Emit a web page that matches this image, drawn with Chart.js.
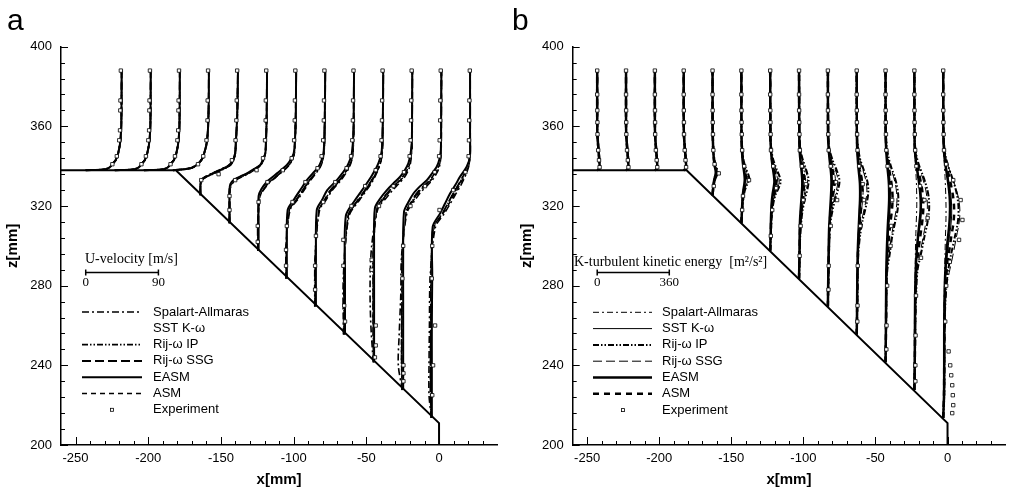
<!DOCTYPE html>
<html lang="pt">
<head>
<meta charset="utf-8">
<title>Perfis U e K</title>
<script src="https://cdn.jsdelivr.net/npm/chart.js@4.4.1/dist/chart.umd.min.js"></script>
<style>
  body { margin: 0; background: #fff; }
  .painel { position: absolute; top: 0; width: 505px; height: 493px; }
</style>
</head>
<body>
<div class="painel" style="left:0"><canvas id="graficoU" width="505" height="493"></canvas></div>
<div class="painel" style="left:505px"><canvas id="graficoK" width="505" height="493"></canvas></div>
<script>
'use strict';
//========================================================================================
// DADOS
const estacoes = [-243, -223, -203, -183, -163, -143, -123, -103, -83, -63, -43, -23, -3];
const paredeX = [-260, -181, 0, 0];
const paredeZ = [338, 338, 211, 200];
const xTicks = [-250, -200, -150, -100, -50, 0];
const zTicks = [200, 240, 280, 320, 360, 400];
const modelos = ['Spalart-Allmaras', 'SST K-ω', 'Rij-ω IP', 'Rij-ω SSG', 'EASM', 'ASM'];
const escalaU = 50 / 90;   // 90 m/s = 50 mm no desenho
const escalaK = 50 / 360;  // 360 m2/s2 = 50 mm no desenho

// --- a: U-velocity [m/s] ---
const zUMontante = [338, 338.3, 339, 340, 341.5, 343, 345.5, 348, 351, 354, 360, 370, 388];
const uMontante = [0, 22, 28, 31, 34, 37, 39.5, 41, 42.3, 43.2, 44, 44.3, 44.5];
const zUQuina = [338, 338.3, 338.7, 339.3, 340.5, 342, 344, 347, 350, 354, 360, 370, 388];
const uQuina = [0, 10, 18, 24, 29, 33, 36.5, 39, 41, 42.5, 43.5, 44.2, 44.5];

const zU = [zUMontante, zUMontante, zUMontante, zUQuina,
    [325.4, 330, 333, 334.5, 336, 337.5, 339, 340.6, 343, 346.5, 353, 365, 388],
    [311.4, 320, 328, 331, 333, 334.8, 336.4, 338.5, 340.6, 343.5, 346.4, 353, 365, 388],
    [297.5, 312, 325, 328.5, 332.2, 334.3, 336.4, 338.5, 340.6, 343.5, 346.4, 353, 365, 388],
    [283.5, 300, 318, 323, 328, 333, 336.4, 339.7, 343, 346.4, 353, 365, 388],
    [269.5, 295, 318, 323, 328, 333, 336.4, 339.7, 343, 346.4, 356.4, 370, 388],
    [255.5, 285, 315, 323, 327, 331.4, 335.5, 339.7, 343.5, 348, 358, 370, 388],
    [241.5, 260, 280, 300, 319, 324, 328, 331.4, 334.7, 338, 341.4, 346, 351.5, 365, 388],
    [227.6, 240, 255, 275, 295, 317, 322, 326.3, 330, 333, 336.5, 339.7, 343, 348, 365, 388],
    [213.6, 225, 240, 260, 285, 309.5, 316.3, 321, 326.3, 330.5, 334.7, 339.7, 344.7, 355, 388]];

const uSA = [uMontante, uMontante, uMontante, uQuina,
    [-2, -2, -1, 3, 10, 18, 26, 33, 38, 40.8, 42, 43.5, 44.5],
    [-2, -2, -1.5, 1, 6, 14, 22, 30, 37, 40, 42.3, 43.2, 44, 44.5],
    [-3, -3, 0, 5, 12.5, 19, 25, 31, 36, 40, 42.3, 43.3, 44, 44.5],
    [-4, -4, 1, 10, 18.5, 26.5, 33, 38.5, 41.5, 43, 43.6, 44, 44.5],
    [-4.5, -4, 1.5, 9.5, 17.5, 28, 34, 38.5, 41.3, 42.8, 43.6, 43.9, 44.2],
    [-5, -5, 2, 15, 22, 29.5, 35, 39.5, 42, 43.3, 43.8, 44, 44.3],
    [-4, -7, -8, -6, 2, 12, 20, 28, 35, 39.5, 42, 43.3, 43.9, 44, 44.3],
    [-4, -9, -8, -6, -5, 2, 10, 17.5, 26, 33, 38.5, 41.8, 43.2, 44, 44.1, 44.3],
    [-4, -7, -7, -6.5, -5.5, 1, 12, 19, 26.5, 32.5, 37.5, 42, 43.6, 43.8, 43.8]];
const uSST = [uMontante, uMontante, uMontante, uQuina,
    [-2, -2, -1, 4, 12, 20, 28, 35, 38.5, 41, 42, 43.5, 44.5],
    [-2, -2, -2, -0.5, 3.5, 11.5, 20, 28.5, 36, 39.5, 42.3, 43.2, 44, 44.5],
    [-2, -2, -1.5, 2.5, 9.5, 15.8, 22, 28.2, 34, 38.6, 41.6, 43.1, 44, 44.5],
    [-3, -3, -1.5, 6.5, 14.8, 23, 30.2, 36.8, 40.4, 42.5, 43.4, 44, 44.5],
    [-3, -3, -1, 5.5, 12.5, 24, 30.5, 36, 39.6, 41.8, 43.4, 43.8, 44.2],
    [-3, -3, -1, 10.5, 17.5, 25.5, 31.8, 37.2, 40.6, 42.7, 43.6, 44, 44.3],
    [-3, -3, -3, -3, -1, 6.5, 14.5, 23, 30.5, 36, 40, 42.3, 43.7, 44, 44.3],
    [-3, -3, -3, -3, -3, -1, 5, 11.5, 20, 28, 34.5, 39.3, 42, 43.7, 44, 44.3],
    [-3.5, -3.5, -3.5, -3.5, -3, -2, 7.8, 14, 20.8, 27, 32.8, 40.3, 43.6, 43.8, 43.8]];
const uIP = [uMontante, uMontante, uMontante, uQuina,
    [-2, -2, 0, 5, 13, 21, 29, 35.5, 39, 41.2, 42.2, 43.6, 44.5],
    [-2, -2, -1.5, 0.5, 5, 13, 21, 29, 36.5, 40, 42.3, 43.2, 44, 44.5],
    [-2.5, -2.5, -0.5, 4, 11.5, 18, 24, 30, 35.5, 39.5, 42, 43.2, 44, 44.5],
    [-3.5, -3.5, 0, 8.5, 17, 25, 31.5, 37.5, 41, 42.8, 43.5, 44, 44.5],
    [-4, -3.5, 0.5, 8, 15.5, 26.5, 32.5, 37.5, 40.6, 42.4, 43.5, 43.9, 44.2],
    [-4, -4, 1, 13.5, 20.5, 28, 34, 38.8, 41.6, 43, 43.7, 44, 44.3],
    [-3.5, -4, -4, -4, 0.5, 9, 17, 25.5, 32.5, 37.5, 41, 42.8, 43.8, 44, 44.3],
    [-4, -5, -5, -4.5, -4, 0.5, 7.5, 14.5, 23, 30.5, 36.5, 40.5, 42.8, 43.9, 44.1, 44.3],
    [-4, -5, -5, -5, -4.5, -1, 9.5, 16, 23.5, 29.5, 35, 41, 43.6, 43.8, 43.8]];
const uSSG = [uMontante, uMontante, uMontante, uQuina,
    [-2, -2, -1, 4, 11, 19, 27, 34, 38.5, 41, 42, 43.5, 44.5],
    [-2, -2, -2, 0, 4, 12, 20.5, 29, 36.5, 39.8, 42.3, 43.2, 44, 44.5],
    [-2.5, -2.5, -1, 3.5, 11, 17.5, 23.5, 29.5, 35, 39.3, 41.9, 43.2, 44, 44.5],
    [-3.5, -3.5, -0.5, 8, 16.5, 24.5, 31, 37.2, 40.8, 42.7, 43.5, 44, 44.5],
    [-4, -3.5, 0, 7.5, 15, 26, 32, 37.2, 40.4, 42.3, 43.5, 43.9, 44.2],
    [-4, -4, 0.5, 13, 20, 27.5, 33.5, 38.5, 41.4, 42.9, 43.7, 44, 44.3],
    [-3.5, -4, -4, -3.5, 0, 8, 16, 24.5, 31.8, 37, 40.6, 42.6, 43.8, 44, 44.3],
    [-4, -4.5, -4.5, -4, -4, 0, 7, 13.5, 22, 29.5, 35.8, 40, 42.5, 43.8, 44.1, 44.3],
    [-4, -5, -5, -4.5, -4, -1.5, 9, 15.5, 23, 29, 34.5, 40.8, 43.6, 43.8, 43.8]];
const uEASM = [uMontante, uMontante, uMontante, uQuina,
    [-2, -2, -1, 4, 12, 20, 28, 35, 38.5, 41, 42, 43.5, 44.5],
    [-2, -2, -2, -1, 3, 11, 19.6, 28, 36, 39.5, 42.3, 43.2, 44, 44.5],
    [-2, -2, -2, 1.5, 8.3, 14.5, 20.7, 27, 33, 38, 41.4, 43, 44, 44.5],
    [-3, -3, -2, 5.4, 13.5, 21.8, 29, 36.2, 40, 42.3, 43.3, 44, 44.5],
    [-3, -3, -2, 4.5, 11, 22.9, 29.5, 35.3, 39, 41.4, 43.4, 43.8, 44.2],
    [-3, -3, -2, 9.5, 16.5, 24, 30.5, 36.4, 40, 42.5, 43.5, 44, 44.3],
    [-3, -3, -3, -3, -2, 5, 12.8, 21, 29.2, 35, 39.4, 42, 43.6, 44, 44.3],
    [-3, -3, -3, -3, -3, -2, 3.5, 9.7, 18, 26.3, 33, 38.5, 41.5, 43.6, 44, 44.3],
    [-3.5, -3.5, -3.5, -3.5, -3, -2.5, 6.7, 12.5, 19, 25.5, 31.3, 39.6, 43.6, 43.8, 43.8]];
const uASM = [uMontante, uMontante, uMontante, uQuina,
    [-2, -2, -1, 3.5, 11, 19, 27, 34.5, 38.5, 41, 42, 43.5, 44.5],
    [-2, -2, -2, 0, 4.5, 12.5, 21, 29, 36.5, 39.8, 42.3, 43.2, 44, 44.5],
    [-2.5, -2.5, -0.5, 4.5, 12, 18.5, 24.5, 30.5, 35.8, 39.8, 42.1, 43.2, 44, 44.5],
    [-3.5, -3.5, 0, 9, 17.5, 25.5, 32, 37.8, 41.2, 42.9, 43.5, 44, 44.5],
    [-4, -3.5, 0.5, 8.5, 16.5, 27, 33, 38, 41, 42.6, 43.5, 43.9, 44.2],
    [-4, -4, 1, 14, 21, 28.5, 34.5, 39, 41.8, 43.1, 43.7, 44, 44.3],
    [-3.5, -4, -4, -3.5, 1, 10, 18, 26.5, 33.5, 38.3, 41.3, 42.9, 43.8, 44, 44.3],
    [-4, -5, -5, -4.5, -4, 1, 8.5, 15.5, 24, 31.5, 37.2, 41, 43, 43.9, 44.1, 44.3],
    [-4, -5, -5, -5, -4.5, -0.5, 10.5, 17.5, 25, 31, 36.3, 41.5, 43.6, 43.8, 43.8]];

const expZUMontante = [388, 373, 368, 358, 353, 345, 341];
const expUMontante = [43.5, 43, 42.8, 42.5, 41.5, 38.5, 33];
const expZU = [expZUMontante, expZUMontante, expZUMontante,
    [388, 373, 363, 353, 345, 341],
    [388, 373, 363, 353, 343, 336, 333],
    [388, 373, 363, 353, 344, 338, 333, 325, 318],
    [388, 373, 363, 353, 344, 338, 332, 322, 310, 302],
    [388, 373, 363, 353, 345, 339, 332, 322, 310, 298, 290],
    [388, 373, 363, 353, 345, 339, 332, 322, 305, 290, 278],
    [388, 373, 363, 353, 345, 338, 330, 320, 303, 290, 270, 262],
    [388, 373, 363, 353, 345, 337, 330, 320, 293, 288, 260, 250, 244],
    [388, 373, 363, 353, 345, 337, 330, 320, 300, 283.6, 240, 236, 232],
    [388, 373, 363, 353, 345, 337, 328, 318, 300, 283.6, 260, 240, 225]];
const expU = [expUMontante, expUMontante, expUMontante,
    [43.5, 43, 42.8, 41.5, 37.5, 31],
    [43.5, 43, 42.5, 41.5, 37, 20.5, -1],
    [43.5, 43, 42.8, 42, 39.5, 31.5, 5, -2, -2],
    [43.5, 43, 42.8, 42, 39, 28, 9, -2, -3, -3],
    [43.5, 43, 42.8, 42, 40, 35, 20, 4, -3, -4, -4],
    [43.5, 43, 42.8, 42, 40.5, 35, 21, 6, -3, -4, -4],
    [43.5, 43, 42.8, 42.2, 41, 35, 22, 5, -5, -5, -4, -3],
    [43.5, 43, 42.8, 42.2, 41, 34, 21, 3, -6, -6, -1, -1, -2],
    [43.5, 43, 42.8, 42.2, 41.5, 36, 24, 6, -3, -4, -2.7, -2.7, -2.7],
    [43.5, 43, 42.8, 42.5, 42, 38, 23, 6, -3, -3.6, 0.5, -2, -3]];

// --- b: K-turbulent kinetic energy [m2/s2] ---
const zKMontante = [338, 338.5, 340, 342, 345, 348, 352, 356, 362, 388];
const kMontante = [0, 10, 12, 11, 9, 6.5, 3.5, 1, 0, 0];

const zK = [zKMontante, zKMontante, zKMontante, zKMontante,
    [325.4, 330, 333, 335, 336.5, 338, 340, 343, 347, 352, 358, 388],
    [311.4, 318, 324, 328, 331, 333.5, 336, 339, 343, 348, 355, 388],
    [297.5, 305, 314, 321, 326, 329, 332, 335, 338.5, 343, 348, 355, 388],
    [283.5, 295, 305, 313, 318, 322, 326, 330, 333, 336, 340, 345, 352, 388],
    [269.5, 285, 298, 308, 314, 319, 324, 328, 332, 335, 338.5, 343, 348, 355, 388],
    [255.5, 270, 285, 296, 304.5, 313, 318, 321.5, 325, 328, 331.5, 335, 339, 344, 350, 358, 388],
    [241.5, 260, 278, 288, 296, 304.5, 313, 318, 323, 327, 331, 335, 339, 344, 350, 358, 388],
    [227.6, 245, 262, 276, 288, 296, 304.5, 311, 316, 320, 324, 328, 332, 336, 340, 345, 352, 388],
    [213.6, 225, 240, 255, 270, 280, 288, 296, 304.5, 310, 315, 320, 325, 330, 335, 340, 346, 355, 388]];

const kSA = [kMontante, kMontante, kMontante, kMontante,
    [0, 5, 10, 17, 22, 20, 14, 8, 4.5, 2, 0.5, 0],
    [0, 4, 9, 16, 25, 30, 26, 17, 9, 4, 1, 0],
    [0, 3, 6, 12, 22, 32, 38, 34, 24, 12, 5, 1, 0],
    [0, 3, 5, 9, 14, 20, 27, 32, 33, 29, 20, 10, 3, 0],
    [0, 3, 5, 8, 12, 18, 26, 33, 38, 36, 28, 16, 7, 1.5, 0],
    [0, 2.5, 4, 7, 11, 18, 24, 28, 31, 32, 30, 25, 17, 9, 3.5, 0.5, 0],
    [0, 2, 3, 5, 8, 12, 18, 22, 25, 26, 24, 20, 15, 8, 3, 0.5, 0],
    [0, 2, 2.5, 3, 4, 5, 7, 9, 11, 12, 12, 11, 10, 8, 6, 3, 1, 0],
    [0, 3, 4, 4, 5, 6, 7, 9, 11, 13, 14, 14, 13, 11, 9, 6, 3, 0.5, 0]];
const kSST = [kMontante, kMontante, kMontante, kMontante,
    [0, 4, 9, 15, 19, 18, 13, 8, 4, 2, 0.5, 0],
    [0, 3, 7, 12, 18, 22, 19, 13, 7, 3, 0.5, 0],
    [0, 2, 5, 9, 16, 23, 27, 24, 17, 9, 4, 1, 0],
    [0, 2, 3.5, 6, 10, 14, 18, 21, 21, 18, 13, 7, 2, 0],
    [0, 2, 4.5, 7, 10, 14, 18, 21, 23, 21, 17, 11, 5, 1, 0],
    [0, 2, 3.5, 5.5, 9, 14, 17, 20, 22, 22, 21, 17, 12, 6, 2.5, 0.5, 0],
    [0, 2, 3.5, 5, 8, 12, 18, 22, 24, 24, 22, 18, 13, 7, 3, 0.5, 0],
    [0, 2, 3.5, 5, 8, 13, 21, 29, 34, 36, 35, 31, 26, 19, 12, 5.5, 1, 0],
    [0, 4, 5, 5.5, 7, 10, 14, 21, 31, 38, 42, 42, 39, 32, 23, 14, 6, 1, 0]];
const kIP = [kMontante, kMontante, kMontante, kMontante,
    [0, 5, 12, 20, 26, 24, 17, 10, 5, 2.5, 0.5, 0],
    [0, 4, 10, 18, 30, 40, 34, 22, 11, 4.5, 1, 0],
    [0, 3, 7, 15, 28, 42, 52, 46, 32, 16, 6, 1.5, 0],
    [0, 3, 6, 12, 18, 26, 36, 45, 48, 42, 30, 14, 4, 0],
    [0, 3, 6, 10, 16, 26, 38, 50, 58, 54, 42, 24, 9, 2, 0],
    [0, 3, 5, 8, 16, 30, 42, 50, 56, 58, 55, 46, 32, 16, 6, 1, 0],
    [0, 3, 5, 9, 21, 33, 50, 60, 64, 62, 55, 44, 30, 16, 6, 1, 0],
    [0, 3, 5, 9, 16, 33, 50, 64, 72, 74, 72, 65, 54, 40, 25, 11, 2, 0],
    [0, 5, 6, 7, 10, 16, 25, 40, 58, 70, 76, 76, 70, 58, 42, 25, 10, 2, 0]];
const kSSG = [kMontante, kMontante, kMontante, kMontante,
    [0, 5, 11, 18, 23, 21, 15, 9, 4.5, 2, 0.5, 0],
    [0, 4, 9, 16, 26, 34, 30, 20, 10, 4, 1, 0],
    [0, 3, 7, 13, 25, 37, 45, 40, 28, 14, 5, 1, 0],
    [0, 3, 5, 10, 16, 23, 32, 40, 43, 38, 27, 12, 3.5, 0],
    [0, 3, 5.5, 9, 14, 23, 33, 43, 50, 47, 36, 20, 8, 2, 0],
    [0, 3, 4.5, 7.5, 14, 26, 36, 44, 49, 51, 48, 40, 28, 14, 5, 1, 0],
    [0, 3, 4.5, 8, 18, 29, 44, 53, 57, 55, 49, 39, 27, 14, 5, 1, 0],
    [0, 3, 4.5, 8, 14, 28, 44, 56, 63, 65, 63, 57, 47, 35, 22, 10, 2, 0],
    [0, 5, 6, 7, 11, 18, 33, 50, 66, 77, 83, 82, 74, 60, 43, 25, 10, 2, 0]];
const kEASM = [kMontante, kMontante, kMontante, kMontante,
    [0, 4, 8, 13, 16, 15, 11, 7, 4, 2, 0.5, 0],
    [0, 3, 6, 10, 15, 17, 15, 11, 6, 3, 0.5, 0],
    [0, 2, 4, 7, 12, 17, 21, 19, 14, 8, 4, 1, 0],
    [0, 2, 3, 5, 8, 11, 14, 16, 16, 14, 10, 5, 1.5, 0],
    [0, 2, 4, 6, 9, 12, 15, 17, 18, 17, 14, 9, 4.5, 1, 0],
    [0, 2, 3, 5, 8, 12, 14, 16, 17, 17, 16, 13, 9, 5, 2, 0.5, 0],
    [0, 2, 3, 4, 6, 9, 13, 16, 18, 18, 17, 14, 10, 6, 2.5, 0.5, 0],
    [0, 2, 3, 4, 7, 11, 18, 25, 30, 32, 31, 28, 23, 17, 11, 5, 1, 0],
    [0, 4, 5, 5, 6, 8, 11, 16, 24, 30, 33, 34, 32, 27, 20, 12, 5, 1, 0]];
const kASM = [kMontante, kMontante, kMontante, kMontante,
    [0, 4.5, 10, 16, 20, 19, 14, 8, 4, 2, 0.5, 0],
    [0, 3.5, 8, 13, 20, 24, 21, 15, 8, 3.5, 0.8, 0],
    [0, 2.5, 5, 10, 18, 26, 31, 28, 20, 10, 4.5, 1, 0],
    [0, 2.5, 4, 7, 11, 16, 21, 25, 26, 23, 16, 8, 2.5, 0],
    [0, 2.5, 5, 8, 11, 16, 22, 28, 31, 29, 23, 13, 6, 1.5, 0],
    [0, 2.5, 4, 6, 10, 16, 21, 25, 28, 29, 27, 22, 15, 8, 3, 0.5, 0],
    [0, 2.5, 4, 6, 11, 17, 26, 32, 35, 34, 30, 24, 17, 9, 3.5, 0.5, 0],
    [0, 2.5, 4, 6, 10, 18, 29, 38, 43, 45, 43, 39, 32, 24, 15, 7, 1.5, 0],
    [0, 4, 5, 6, 8, 12, 18, 28, 40, 49, 54, 54, 49, 40, 29, 17, 7, 1.5, 0]];

const expZKMontante = [388, 376, 368, 362, 356, 348, 343, 339.5];
const expKMontante = [0, 0, 0.5, 1, 1.5, 5, 9, 12];
const expZK = [expZKMontante, expZKMontante, expZKMontante, expZKMontante,
    [388, 376, 368, 362, 356, 348, 341, 336.4, 330],
    [388, 376, 368, 362, 356, 348, 340, 333, 325, 318],
    [388, 376, 368, 362, 356, 348, 340, 329, 318, 305],
    [388, 376, 368, 362, 356, 348, 340, 331, 323, 310, 295],
    [388, 376, 368, 362, 356, 348, 340, 332, 323, 310, 290, 278],
    [388, 376, 368, 362, 356, 348, 340, 331, 323, 310, 290, 270, 262],
    [388, 376, 368, 362, 356, 348, 340, 330, 323, 310, 300, 280, 260, 248],
    [388, 376, 368, 362, 356, 348, 340, 330, 323, 314, 294, 275, 255, 240, 232],
    [388, 376, 368, 362, 356, 348, 341, 333, 323, 313, 303, 292, 280, 262, 247, 240, 235, 230, 225, 220, 216]];
const expK = [expKMontante, expKMontante, expKMontante, expKMontante,
    [0, 0, 0.5, 1, 2, 4, 10, 31, 6],
    [0, 0, 0.5, 1, 2, 4, 14, 38, 8, 4],
    [0, 0, 0.5, 1, 2, 4, 15, 30, 10, 3],
    [0, 0, 0.5, 1, 2, 4, 14, 35, 21, 8, 3],
    [0, 0, 0.5, 1, 2, 4, 14, 40, 46, 14, 4, 3],
    [0, 0, 0.5, 1, 2, 4, 12, 30, 36, 18, 5, 4, 3],
    [0, 0, 0.5, 1, 2, 4, 10, 25, 33, 28, 25, 8, 5, 4],
    [0, 0, 0.5, 1, 2, 4, 10, 28, 50, 66, 33, 8, 6, 5, 5],
    [0, 0, 0.5, 1, 2, 4, 15, 50, 87, 96, 79, 33, 15, 10, 27, 35, 40, 45, 48, 50, 45]];
//========================================================================================

const familia = "'Liberation Sans', Arial, sans-serif";
const serifa = "'Liberation Serif', 'Times New Roman', serif";

// estilos das curvas (ordem = modelos)
const estilosU = [
    { traco: [7, 3, 2, 3], largura: 1.6, cor: '#000' },
    { traco: [], largura: 1, cor: '#e4e4e4', semAmostra: true },
    { traco: [6, 2, 1.5, 2, 1.5, 2], largura: 1.6, cor: '#000' },
    { traco: [9, 4], largura: 2, cor: '#000' },
    { traco: [], largura: 2, cor: '#000' },
    { traco: [5, 4], largura: 1.4, cor: '#000' }
];
const estilosK = [
    { traco: [6, 3, 2, 3], largura: 1, cor: '#000' },
    { traco: [], largura: 1, cor: '#000' },
    { traco: [6, 2, 1.5, 2, 1.5, 2], largura: 2, cor: '#000' },
    { traco: [9, 4], largura: 1, cor: '#000' },
    { traco: [], largura: 2.5, cor: '#000' },
    { traco: [6, 5], largura: 2.5, cor: '#000' }
];
const ordemDesenho = [6, 3, 5, 4, 2, 7]; // menor = por cima

function criaPerfis(zs, vals, escala, estilo, ordem) {
    return estacoes.map((x0, i) => ({
        data: zs[i].map((z, j) => ({ x: x0 + vals[i][j] * escala, y: z })),
        showLine: true,
        borderColor: estilo.cor,
        borderWidth: estilo.largura,
        borderDash: estilo.traco,
        borderCapStyle: 'butt',
        pointRadius: 0,
        tension: 0.3,
        order: ordem
    }));
}

function criaExperimento(zs, vals, escala) {
    const pontos = [];
    estacoes.forEach((x0, i) => {
        zs[i].forEach((z, j) => pontos.push({ x: x0 + vals[i][j] * escala, y: z }));
    });
    return {
        data: pontos,
        showLine: false,
        pointStyle: 'rect',
        pointRadius: 2.4,
        pointBorderWidth: 0.8,
        pointBorderColor: '#000',
        pointBackgroundColor: '#fff',
        order: 0
    };
}

function criaParede() {
    return {
        data: paredeX.map((x, i) => ({ x: x, y: paredeZ[i] })),
        showLine: true,
        borderColor: '#000',
        borderWidth: 2,
        pointRadius: 0,
        tension: 0,
        order: 1
    };
}

// ticks para dentro do grafico
const ticksInternos = {
    id: 'ticksInternos',
    afterDraw(chart) {
        const { ctx, chartArea: a, scales: { x, y } } = chart;
        ctx.save();
        ctx.strokeStyle = '#000';
        ctx.lineWidth = 1;
        ctx.beginPath();
        for (let v = -250; v <= 30; v += 10) {
            const px = Math.round(x.getPixelForValue(v)) + 0.5;
            const t = xTicks.includes(v) ? 8 : 4;
            ctx.moveTo(px, a.bottom);
            ctx.lineTo(px, a.bottom - t);
        }
        for (let v = 200; v <= 400; v += 8) {
            const py = Math.round(y.getPixelForValue(v)) + 0.5;
            const t = zTicks.includes(v) ? 7 : 4;
            ctx.moveTo(a.left, py);
            ctx.lineTo(a.left + t, py);
        }
        ctx.stroke();
        ctx.restore();
    }
};

function criaLegenda(cfg) {
    return {
        id: 'legenda' + cfg.letra,
        afterDraw(chart) {
            const { ctx, scales: { x, y } } = chart;
            ctx.save();
            ctx.fillStyle = '#000';
            ctx.strokeStyle = '#000';
            // letra do painel
            ctx.font = '30px ' + familia;
            ctx.textAlign = 'left';
            ctx.textBaseline = 'alphabetic';
            ctx.fillText(cfg.letra, 7, 30);
            // escala
            ctx.font = '14px ' + serifa;
            ctx.textBaseline = 'middle';
            ctx.fillText(cfg.tituloEscala, cfg.tituloX, cfg.tituloY);
            const b0 = x.getPixelForValue(cfg.barraInicio);
            const b1 = x.getPixelForValue(cfg.barraInicio + 50);
            const by = Math.round(y.getPixelForValue(cfg.barraZ)) + 0.5;
            ctx.lineWidth = 1.5;
            ctx.beginPath();
            ctx.moveTo(b0, by); ctx.lineTo(b1, by);
            ctx.moveTo(b0, by - 3); ctx.lineTo(b0, by + 3);
            ctx.moveTo(b1, by - 3); ctx.lineTo(b1, by + 3);
            ctx.stroke();
            ctx.font = '13px ' + serifa;
            ctx.textAlign = 'center';
            ctx.fillText(cfg.rotulos[0], b0, cfg.rotuloY);
            ctx.fillText(cfg.rotulos[1], b1, cfg.rotuloY);
            // itens
            ctx.font = '13px ' + familia;
            ctx.textAlign = 'left';
            modelos.forEach((nome, i) => {
                const yy = cfg.itemY0 + i * cfg.passo;
                const e = cfg.estilos[i];
                if (!e.semAmostra) {
                    ctx.save();
                    ctx.lineWidth = e.largura;
                    ctx.setLineDash(e.traco);
                    ctx.beginPath();
                    ctx.moveTo(cfg.linhaX0, yy);
                    ctx.lineTo(cfg.linhaX1, yy);
                    ctx.stroke();
                    ctx.restore();
                }
                ctx.fillText(nome, cfg.textoX, yy);
            });
            const ye = cfg.itemY0 + 6 * cfg.passo;
            ctx.lineWidth = 0.8;
            ctx.strokeRect(cfg.marcaX - 1.5, ye - 1.5, 3, 3);
            ctx.fillText('Experiment', cfg.textoX, ye);
            ctx.restore();
        }
    };
}

function eixos(larguraY, padTituloY) {
    return {
        x: {
            type: 'linear', min: -260, max: 40,
            afterBuildTicks: s => { s.ticks = xTicks.map(v => ({ value: v })); },
            afterFit: s => { s.height = 48; },
            grid: { display: false, drawTicks: false },
            border: { display: true, color: '#000', width: 1.5 },
            ticks: { color: '#000', font: { family: familia, size: 13 }, padding: 6, maxRotation: 0, autoSkip: false },
            title: { display: true, text: 'x[mm]', color: '#000', font: { family: familia, size: 15, weight: 'bold' }, padding: { top: 0, bottom: 4 } }
        },
        y: {
            type: 'linear', min: 200, max: 400,
            afterBuildTicks: s => { s.ticks = zTicks.map(v => ({ value: v })); },
            afterFit: s => { s.width = larguraY; },
            grid: { display: false, drawTicks: false },
            border: { display: true, color: '#000', width: 1.5 },
            ticks: { color: '#000', font: { family: familia, size: 13 }, padding: 9, autoSkip: false },
            title: { display: true, text: 'z[mm]', color: '#000', font: { family: familia, size: 15, weight: 'bold' }, padding: { top: padTituloY, bottom: 0 } }
        }
    };
}

function montaGrafico(id, series, estilos, zs, expZ, expV, escala, larguraY, padDireita, padTituloY, legenda) {
    const datasets = [criaExperimento(expZ, expV, escala), criaParede()];
    series.forEach((vals, m) => {
        datasets.push(...criaPerfis(zs, vals, escala, estilos[m], ordemDesenho[m]));
    });
    return new Chart(document.getElementById(id), {
        type: 'scatter',
        data: { datasets: datasets },
        options: {
            responsive: false,
            animation: false,
            events: [],
            layout: { padding: { top: 46.7, right: padDireita, left: 0, bottom: 0 } },
            scales: eixos(larguraY, padTituloY),
            plugins: { legend: { display: false }, tooltip: { enabled: false } }
        },
        plugins: [ticksInternos, criaLegenda(legenda)]
    });
}

const graficoU = montaGrafico('graficoU', [uSA, uSST, uIP, uSSG, uEASM, uASM], estilosU, zU, expZU, expU, escalaU,
    61, 7.8, 4.3, {
        letra: 'a', tituloEscala: 'U-velocity [m/s]', tituloX: 85, tituloY: 259,
        barraInicio: -243, barraZ: 287, rotulos: ['0', '90'], rotuloY: 283,
        linhaX0: 82, linhaX1: 142, textoX: 153, itemY0: 312, passo: 16.3, marcaX: 112, estilos: estilosU
    });

const graficoK = montaGrafico('graficoK', [kSA, kSST, kIP, kSSG, kEASM, kASM], estilosK, zK, expZK, expK, escalaK,
    67.7, 1.1, 12.7, {
        letra: 'b', tituloEscala: 'K-turbulent kinetic energy  [m²/s²]', tituloX: 69, tituloY: 262,
        barraInicio: -243, barraZ: 287, rotulos: ['0', '360'], rotuloY: 283,
        linhaX0: 88, linhaX1: 147, textoX: 157, itemY0: 312.3, passo: 16.3, marcaX: 118, estilos: estilosK
    });
</script>
</body>
</html>
